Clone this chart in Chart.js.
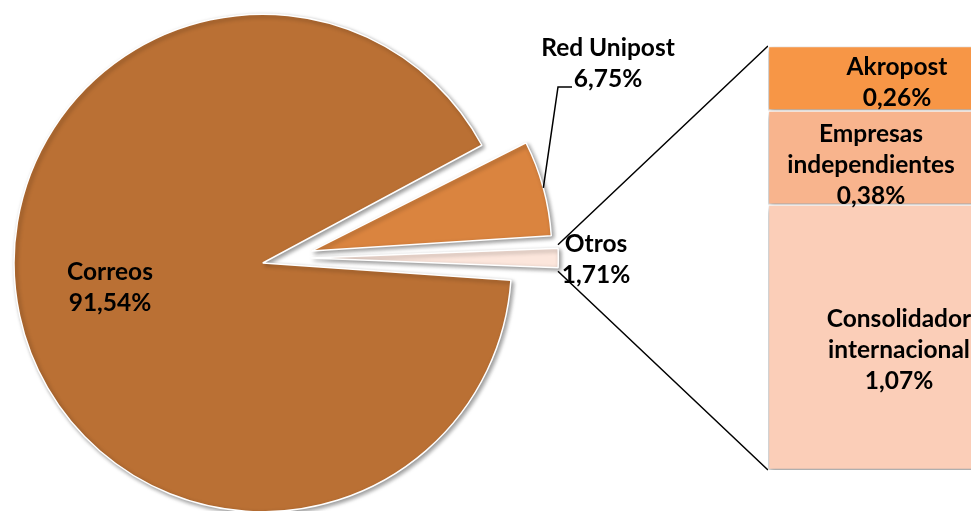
<!DOCTYPE html>
<html lang="es">
<head>
<meta charset="utf-8">
<title>Cuota de mercado postal</title>
<script src="https://cdn.jsdelivr.net/npm/chart.js@4.4.1/dist/chart.umd.min.js"></script>
<style>
    html, body { margin: 0; padding: 0; background: #fff; overflow: hidden; }
    body { width: 971px; height: 511px; position: relative; }
    #caja-tarta { position: absolute; left: 0; top: 0; width: 971px; height: 511px; }
    #caja-barra { position: absolute; left: 758px; top: 40px; width: 280px; height: 445px; }
</style>
</head>
<body>
<div id="caja-tarta"><canvas id="chart-tarta"></canvas></div>
<div id="caja-barra"><canvas id="chart-barra"></canvas></div>
<script>
// Datos
const operadores = ['Correos', 'Red Unipost', 'Otros'];
const cuotas = [91.54, 6.75, 1.71];
const otrosOperadores = ['Akropost', 'Empresas independientes', 'Consolidador internacional'];
const cuotasOtros = [0.26, 0.38, 1.07];

// Estilo
const coloresTarta = ['#BA7034', '#DA843F', '#FCE6DC'];
const coloresBarra = ['#F79646', '#F8B48D', '#FBCEB8'];
const desplazamientos = [95, 105, 100];
const FUENTE = 'bold 24.5px Lato, "Open Sans", sans-serif';
const INTERLINEA = 31;

function formatearPorcentaje(valor) {
    return valor.toFixed(2).replace('.', ',') + '%';
}

/**
 * Dibujar un bloque de texto centrado (cy = centro de las mayúsculas)
 */
function dibujarBloque(ctx, lineas, cx, cy) {
    ctx.save();
    ctx.font = FUENTE;
    ctx.fillStyle = '#000';
    ctx.textAlign = 'center';
    ctx.textBaseline = 'alphabetic';
    const n = lineas.length;
    lineas.forEach((linea, i) => {
        ctx.fillText(linea, cx, cy + (i - (n - 1) / 2) * INTERLINEA + 8.5);
    });
    ctx.restore();
}

/**
 * Geometría real de un sector con su desplazamiento (offset)
 */
function geometriaSector(arco) {
    const p = arco.getProps(['x', 'y', 'startAngle', 'endAngle', 'outerRadius', 'circumference']);
    const off = (arco.options.offset || 0) / 4;
    const medio = (p.startAngle + p.endAngle) / 2;
    const fix = 1 - Math.sin(Math.min(Math.PI, p.circumference));
    return {
        x: p.x + Math.cos(medio) * off,
        y: p.y + Math.sin(medio) * off,
        r: p.outerRadius + off * fix,
        inicio: p.startAngle,
        fin: p.endAngle,
        medio: medio
    };
}

function puntoEn(g, angulo) {
    return { x: g.x + Math.cos(angulo) * g.r, y: g.y + Math.sin(angulo) * g.r };
}

// Sombra para los elementos
function pluginSombra(dx, dy, blur) {
    return {
        id: 'sombra',
        beforeDatasetsDraw(chart) {
            const ctx = chart.ctx;
            ctx.save();
            ctx.shadowColor = 'rgba(0, 0, 0, 0.4)';
            ctx.shadowBlur = blur;
            ctx.shadowOffsetX = dx;
            ctx.shadowOffsetY = dy;
        },
        afterDatasetsDraw(chart) {
            chart.ctx.restore();
        }
    };
}

// Gráfico de barra apilada (desglose de "Otros")
const totalOtros = cuotasOtros.reduce((a, b) => a + b, 0);
const datasetsBarra = [];
for (let i = otrosOperadores.length - 1; i >= 0; i--) {
    datasetsBarra.push({
        label: otrosOperadores[i],
        data: [cuotasOtros[i]],
        backgroundColor: coloresBarra[i],
        borderColor: '#fff',
        borderWidth: 1.5,
        borderSkipped: false,
        barPercentage: 1,
        categoryPercentage: 1
    });
}

// Ajustes finos de las etiquetas de la barra (dx, dy)
const ajusteBarra = {
    'Akropost': [0, 4],
    'Empresas independientes': [-26, 7],
    'Consolidador internacional': [2, 12]
};

const etiquetasBarra = {
    id: 'etiquetasBarra',
    afterDraw(chart) {
        const ctx = chart.ctx;
        chart.data.datasets.forEach((ds, i) => {
            const el = chart.getDatasetMeta(i).data[0];
            const aj = ajusteBarra[ds.label] || [0, 0];
            const lineas = ds.label.split(' ').concat([formatearPorcentaje(ds.data[0])]);
            dibujarBloque(ctx, lineas, el.x + aj[0], (el.y + el.base) / 2 + aj[1]);
        });
    }
};

const chartBarra = new Chart(document.getElementById('chart-barra'), {
    type: 'bar',
    data: { labels: ['Otros'], datasets: datasetsBarra },
    options: {
        responsive: true,
        maintainAspectRatio: false,
        animation: false,
        layout: { padding: { left: 10, top: 6, right: 12, bottom: 15 } },
        plugins: { legend: { display: false }, tooltip: { enabled: false } },
        scales: {
            x: { display: false, stacked: true },
            y: { display: false, stacked: true, min: 0, max: totalOtros }
        }
    },
    plugins: [pluginSombra(0, 3, 6), etiquetasBarra]
});

// Posiciones de las etiquetas de la tarta (colocadas a mano, como en el original)
const posEtiquetas = [[110, 287], [608, 63], [596, 259]];

const etiquetasTarta = {
    id: 'etiquetasTarta',
    afterDraw(chart) {
        const ctx = chart.ctx;
        const meta = chart.getDatasetMeta(0);
        const gRed = geometriaSector(meta.data[1]);
        const gOtros = geometriaSector(meta.data[2]);

        ctx.save();
        ctx.strokeStyle = '#000';
        ctx.lineWidth = 1.5;

        // Línea guía de Red Unipost
        const pm = puntoEn(gRed, gRed.medio);
        ctx.beginPath();
        ctx.moveTo(pm.x, pm.y);
        ctx.lineTo(558, 87);
        ctx.lineTo(572, 87);
        ctx.stroke();

        // Conectores de "Otros" con la barra
        const a = puntoEn(gOtros, gOtros.inicio);
        const b = puntoEn(gOtros, gOtros.fin);
        const arriba = a.y < b.y ? a : b;
        const abajo = a.y < b.y ? b : a;
        const rect = chartBarra.canvas.getBoundingClientRect();
        const area = chartBarra.chartArea;
        ctx.beginPath();
        ctx.moveTo(arriba.x, arriba.y);
        ctx.lineTo(rect.left + area.left, rect.top + area.top);
        ctx.moveTo(abajo.x, abajo.y);
        ctx.lineTo(rect.left + area.left, rect.top + area.bottom);
        ctx.stroke();
        ctx.restore();

        operadores.forEach((nombre, i) => {
            const pos = posEtiquetas[i];
            dibujarBloque(ctx, [nombre, formatearPorcentaje(cuotas[i])], pos[0], pos[1]);
        });
    }
};

// Gráfico de tarta
const total = cuotas.reduce((a, b) => a + b, 0);
const rotacion = 90 + (cuotas[2] / total * 360) / 2;

new Chart(document.getElementById('chart-tarta'), {
    type: 'pie',
    data: {
        labels: operadores,
        datasets: [{
            data: cuotas,
            backgroundColor: coloresTarta,
            borderColor: '#fff',
            borderWidth: 1.5,
            offset: desplazamientos,
            radius: 225
        }]
    },
    options: {
        responsive: true,
        maintainAspectRatio: false,
        animation: false,
        rotation: rotacion,
        layout: { padding: { left: 0, top: 5, right: 399, bottom: 0 } },
        plugins: { legend: { display: false }, tooltip: { enabled: false } }
    },
    plugins: [pluginSombra(2, 2, 4), etiquetasTarta]
});
</script>
</body>
</html>
